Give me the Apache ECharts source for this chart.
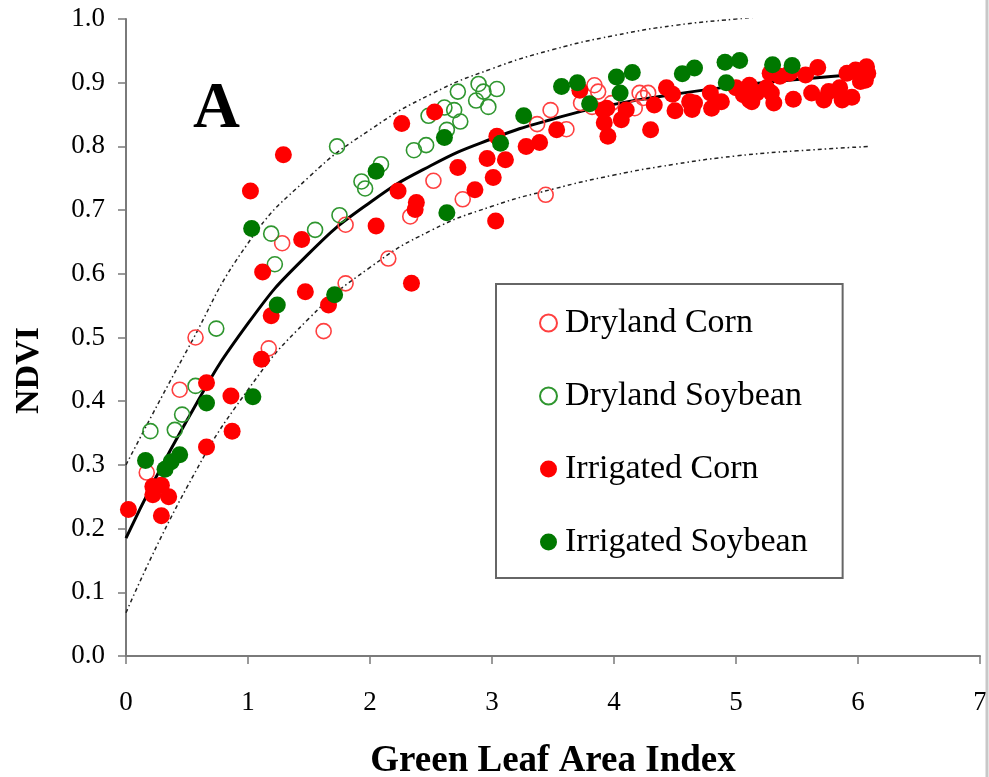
<!DOCTYPE html>
<html>
<head>
<meta charset="utf-8">
<script src="https://cdn.jsdelivr.net/npm/echarts@6/dist/echarts.min.js"></script>
<style>
  html, body { margin: 0; padding: 0; background: #fff; }
  #chart { width: 989px; height: 777px; }
</style>
</head>
<body>
<div id="chart"></div>
<script>
// Green LAI vs NDVI, four crop/water-regime groups: [LAI, NDVI]
const drylandCorn = [
  [0.17,0.288],[0.44,0.418],[0.57,0.50],[1.17,0.483],[1.28,0.648],[1.80,0.677],
  [1.80,0.585],[1.62,0.51],[2.15,0.624],[2.33,0.69],[2.52,0.746],[2.76,0.717],
  [3.37,0.835],[3.44,0.724],[3.48,0.857],[3.61,0.827],[3.73,0.868],[3.82,0.862],
  [3.84,0.896],[3.87,0.886],[3.98,0.868],[4.17,0.86],[4.21,0.884],[4.28,0.884],[4.24,0.876]
];
const drylandSoybean = [
  [0.20,0.353],[0.40,0.355],[0.46,0.379],[0.57,0.424],[0.74,0.514],[1.19,0.663],
  [1.22,0.615],[1.55,0.669],[1.73,0.80],[1.75,0.692],[1.93,0.745],[1.96,0.734],
  [2.09,0.772],[2.36,0.794],[2.46,0.802],[2.48,0.848],[2.61,0.861],[2.69,0.857],
  [2.74,0.839],[2.63,0.826],[2.72,0.886],[2.89,0.898],[2.93,0.886],[3.04,0.89],
  [2.87,0.872],[2.97,0.862]
];
const irrigatedCorn = [
  [0.02,0.23],[0.22,0.266],[0.29,0.268],[0.22,0.253],[0.35,0.25],[0.29,0.22],
  [0.66,0.429],[0.66,0.328],[0.86,0.408],[0.87,0.353],[1.11,0.466],[1.19,0.534],
  [1.29,0.787],[1.02,0.73],[1.44,0.654],[1.12,0.603],[1.47,0.572],[1.66,0.551],
  [2.05,0.675],[2.23,0.73],[2.26,0.836],[2.34,0.585],[2.53,0.854],[2.38,0.712],
  [2.37,0.701],[2.72,0.767],[2.86,0.732],[2.96,0.781],[3.01,0.751],[3.11,0.779],
  [3.04,0.816],[3.03,0.683],[3.28,0.80],[3.39,0.806],[3.53,0.826],[3.72,0.888],
  [3.91,0.857],[3.94,0.86],[3.92,0.837],[3.95,0.816],[4.06,0.842],[4.10,0.857],
  [4.30,0.826],[4.33,0.865],[4.43,0.892],[4.48,0.882],[4.50,0.856],[4.62,0.87],
  [4.66,0.868],[4.64,0.858],[4.79,0.884],[4.80,0.86],[4.88,0.87],[5.00,0.892],
  [5.06,0.881],[5.11,0.873],[5.11,0.896],[5.17,0.884],[5.13,0.87],[5.25,0.892],
  [5.31,0.868],[5.29,0.884],[5.28,0.915],[5.36,0.91],[5.44,0.915],[5.57,0.912],
  [5.67,0.924],[5.47,0.874],[5.62,0.884],[5.72,0.873],[5.76,0.886],[5.85,0.892],
  [5.87,0.873],[5.95,0.877],[5.91,0.915],[5.98,0.92],[6.07,0.925],[6.08,0.915],
  [6.02,0.902],[6.06,0.904]
];
const irrigatedSoybean = [
  [0.16,0.307],[0.32,0.293],[0.37,0.305],[0.44,0.316],[0.66,0.397],[1.04,0.407],
  [1.24,0.551],[1.03,0.671],[1.71,0.567],[2.05,0.761],[2.61,0.814],[2.63,0.696],
  [3.07,0.805],[3.26,0.848],[3.57,0.894],[3.70,0.90],[3.80,0.867],[4.02,0.909],
  [4.15,0.916],[4.05,0.884],[4.56,0.914],[4.66,0.923],[4.91,0.932],[5.03,0.935],
  [4.92,0.90],[5.30,0.928],[5.46,0.927]
];

// Fitted relationship and its upper / lower bands, sampled every 0.5 LAI
const fitCurve = [
  [0,0.185],[0.5,0.37],[1,0.522],[1.5,0.632],[2,0.712],[2.5,0.77],[3,0.812],
  [3.5,0.843],[4,0.866],[4.5,0.882],[5,0.895],[5.5,0.905],[6.1,0.915]
];
const upperBand = [
  [0,0.30],[0.5,0.48],[1,0.648],[1.5,0.752],[2,0.826],[2.5,0.882],[3,0.922],
  [3.5,0.952],[4,0.974],[4.5,0.99],[5,1.0],[5.35,1.006]
];
const lowerBand = [
  [0,0.068],[0.5,0.265],[1,0.418],[1.5,0.53],[2,0.61],[2.5,0.668],[3,0.706],
  [3.5,0.733],[4,0.755],[4.5,0.772],[5,0.785],[5.5,0.793],[6.1,0.80]
];

const xTicks = { min: 0, max: 7, interval: 1 };
const yTicks = { min: 0, max: 1, interval: 0.1 };

const serif = "'Liberation Serif', 'DejaVu Serif', serif";
const axisGray = '#7a7a7a';

const chart = echarts.init(document.getElementById('chart'));

const bandStyle = { color: '#222', width: 1.5, type: [4, 3, 1.5, 3] };

chart.setOption({
  backgroundColor: '#fff',
  animation: false,
  grid: { left: 126, right: 9, top: 19, bottom: 121, containLabel: false, outerBoundsMode: 'none' },
  xAxis: {
    type: 'value',
    min: xTicks.min, max: xTicks.max, interval: xTicks.interval,
    name: 'Green Leaf Area Index',
    nameLocation: 'middle',
    nameGap: 87,
    nameTextStyle: { fontFamily: serif, fontWeight: 'bold', fontSize: 37, color: '#000' },
    axisLine: { lineStyle: { color: axisGray, width: 2 } },
    axisTick: { inside: false, length: 8, lineStyle: { color: axisGray, width: 1.5 } },
    axisLabel: { fontFamily: serif, fontSize: 27, color: '#000', margin: 33 },
    splitLine: { show: false }
  },
  yAxis: {
    type: 'value',
    min: yTicks.min, max: yTicks.max, interval: yTicks.interval,
    name: 'NDVI',
    nameLocation: 'middle',
    nameRotate: 90,
    nameGap: 80,
    nameTextStyle: { fontFamily: serif, fontWeight: 'bold', fontSize: 34, color: '#000', padding: [0, 66, 0, 0] },
    axisLine: { lineStyle: { color: axisGray, width: 2 } },
    axisTick: { inside: false, length: 8, lineStyle: { color: axisGray, width: 1.5 } },
    axisLabel: { fontFamily: serif, fontSize: 27, color: '#000', margin: 21,
                 formatter: v => v.toFixed(1) },
    splitLine: { show: false }
  },
  legend: {
    data: ['Dryland Corn', 'Dryland Soybean', 'Irrigated Corn', 'Irrigated Soybean'],
    orient: 'vertical',
    left: 496, top: 284,
    padding: [22, 35, 19, 43],
    itemGap: 39,
    itemWidth: 17, itemHeight: 17,
    borderColor: '#666', borderWidth: 2,
    backgroundColor: '#fff',
    textStyle: { fontFamily: serif, fontSize: 34, color: '#000', padding: [0, 0, 0, 3] }
  },
  graphic: [
    { type: 'text', left: 193, top: 78, z: 10,
      style: { text: 'A', font: "bold 65px 'Liberation Serif'", fill: '#000' } },
    { type: 'line', z: 10,
      shape: { x1: 987, y1: 0, x2: 987, y2: 777 },
      style: { stroke: '#c8c8c8', lineWidth: 3 } }
  ],
  series: [
    { type: 'line', data: upperBand, smooth: true, showSymbol: false, silent: true,
      lineStyle: bandStyle, z: 1 },
    { type: 'line', data: lowerBand, smooth: true, showSymbol: false, silent: true,
      lineStyle: bandStyle, z: 1 },
    { type: 'line', data: fitCurve, smooth: true, showSymbol: false, silent: true,
      lineStyle: { color: '#000', width: 3 }, z: 2 },
    { name: 'Dryland Corn', type: 'scatter', data: drylandCorn, symbol: 'circle', symbolSize: 15, z: 3,
      itemStyle: { color: 'rgba(255,255,255,0)', borderColor: '#ff4040', borderWidth: 1.6, opacity: 1 } },
    { name: 'Dryland Soybean', type: 'scatter', data: drylandSoybean, symbol: 'circle', symbolSize: 15, z: 3,
      itemStyle: { color: 'rgba(255,255,255,0)', borderColor: '#2f962f', borderWidth: 1.6, opacity: 1 } },
    { name: 'Irrigated Corn', type: 'scatter', data: irrigatedCorn, symbol: 'circle', symbolSize: 17, z: 4,
      itemStyle: { color: '#ff0000', opacity: 1 } },
    { name: 'Irrigated Soybean', type: 'scatter', data: irrigatedSoybean, symbol: 'circle', symbolSize: 17, z: 5,
      itemStyle: { color: '#007800', opacity: 1 } }
  ]
});
</script>
</body>
</html>
